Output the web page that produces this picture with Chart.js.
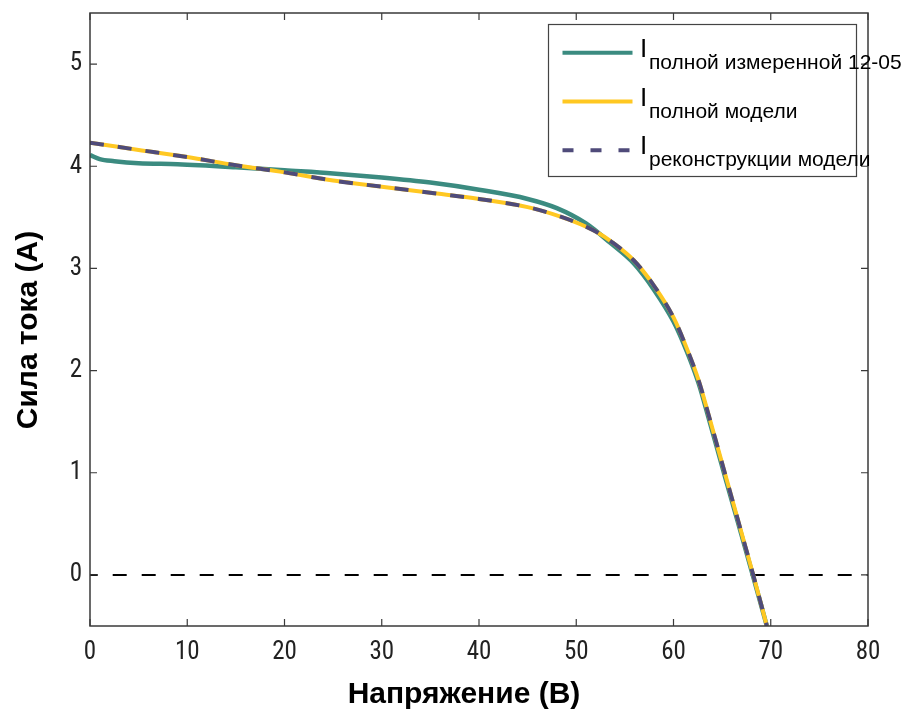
<!DOCTYPE html>
<html>
<head>
<meta charset="utf-8">
<script src="https://cdn.jsdelivr.net/npm/chart.js@4/dist/chart.umd.min.js"></script>
<style>
  html, body { margin: 0; padding: 0; background: #ffffff; }
  #wrap { width: 910px; height: 711px; position: relative; }
</style>
</head>
<body>
<div id="wrap"><canvas id="c" width="910" height="711"></canvas></div>
<script>
// ---- data ----
const xTicks = [0, 10, 20, 30, 40, 50, 60, 70, 80];
const yTicks = [0, 1, 2, 3, 4, 5];

const measuredV = [0, 1, 2.5, 5, 9, 15, 20, 25, 30, 35, 40, 45, 48, 51, 53.5, 55.9, 58, 60, 61.4, 62.6, 63.6, 65.3, 67, 68.2, 69.6];
const measuredI = [4.11, 4.07, 4.05, 4.03, 4.02, 3.99, 3.96, 3.93, 3.89, 3.84, 3.77, 3.68, 3.59, 3.44, 3.25, 3.05, 2.79, 2.48, 2.18, 1.87, 1.54, 0.96, 0.39, -0.02, -0.5];

const modelV = [0, 5, 10, 15, 20, 25, 30, 35, 40, 45, 48.3, 50.5, 52.4, 53.5, 55.9, 58, 60, 61.4, 62.6, 63.6, 65.3, 67, 68.2, 69.6];
const modelI = [4.23, 4.16, 4.09, 4.01, 3.94, 3.86, 3.80, 3.74, 3.68, 3.60, 3.51, 3.43, 3.34, 3.27, 3.08, 2.83, 2.52, 2.21, 1.90, 1.57, 0.99, 0.41, 0.0, -0.5];

const reconV = modelV;
const reconI = modelI;

const zeroV = [0, 80];
const zeroI = [0, 0];

const legendLabels = [
  { main: 'I', sub: 'полной измеренной 12-05' },
  { main: 'I', sub: 'полной модели' },
  { main: 'I', sub: 'реконструкции модели' }
];
const xTitle = 'Напряжение (В)';
const yTitle = 'Сила тока (А)';

const toPts = (xs, ys) => xs.map((x, i) => ({ x: x, y: ys[i] }));

const COL_TEAL = '#3b8b80';
const COL_YEL = '#ffc822';
const COL_NAVY = '#4f4b7a';
const TICK_FONT = '"Liberation Sans Narrow", "Roboto Condensed", "Open Sans", sans-serif';

// ---- plugins ----
const framePlugin = {
  id: 'frame',
  afterDatasetsDraw(chart) {
    const { ctx, chartArea: a, scales } = chart;
    ctx.save();
    ctx.strokeStyle = '#3a3a3a';
    ctx.lineWidth = 1.5;
    ctx.strokeRect(a.left, a.top, a.right - a.left, a.bottom - a.top);
    ctx.lineWidth = 1.2;
    const tl = 7;
    xTicks.forEach(v => {
      const px = scales.x.getPixelForValue(v);
      ctx.beginPath();
      ctx.moveTo(px, a.bottom); ctx.lineTo(px, a.bottom - tl);
      ctx.moveTo(px, a.top); ctx.lineTo(px, a.top + tl);
      ctx.stroke();
    });
    yTicks.forEach(v => {
      const py = scales.y.getPixelForValue(v);
      ctx.beginPath();
      ctx.moveTo(a.left, py); ctx.lineTo(a.left + tl, py);
      ctx.moveTo(a.right, py); ctx.lineTo(a.right - tl, py);
      ctx.stroke();
    });
    ctx.restore();
  },
  afterDraw(chart) {
    const { ctx } = chart;
    ctx.save();
    // axis titles
    ctx.fillStyle = '#000';
    ctx.font = 'bold 30px "Liberation Sans", Arial, sans-serif';
    ctx.textAlign = 'center';
    ctx.textBaseline = 'alphabetic';
    ctx.fillText(xTitle, 464, 703);
    ctx.translate(37, 330);
    ctx.rotate(-Math.PI / 2);
    ctx.fillText(yTitle, 0, 0);
    ctx.restore();

    // legend
    ctx.save();
    const bx = 548.5, by = 24.5, bw = 308, bh = 152;
    ctx.fillStyle = '#fff';
    ctx.fillRect(bx, by, bw, bh);
    ctx.strokeStyle = '#444';
    ctx.lineWidth = 1.2;
    ctx.strokeRect(bx, by, bw, bh);
    const rows = [52.7, 101.5, 150.3];
    const styles = [
      { color: COL_TEAL, dash: [] },
      { color: COL_YEL, dash: [] },
      { color: COL_NAVY, dash: [11, 17] }
    ];
    rows.forEach((ry, i) => {
      ctx.beginPath();
      ctx.strokeStyle = styles[i].color;
      ctx.lineWidth = 4;
      ctx.setLineDash(styles[i].dash);
      ctx.moveTo(562.5, ry); ctx.lineTo(632.5, ry);
      ctx.stroke();
      ctx.setLineDash([]);
      ctx.fillStyle = '#000';
      ctx.textAlign = 'left';
      ctx.textBaseline = 'alphabetic';
      ctx.font = '26px "Liberation Sans", Arial, sans-serif';
      ctx.fillText(legendLabels[i].main, 640, ry + 4);
      ctx.font = '21px "Liberation Sans", Arial, sans-serif';
      ctx.fillText(legendLabels[i].sub, 649, ry + 16);
    });
    ctx.restore();
  }
};

const ctx = document.getElementById('c').getContext('2d');
new Chart(ctx, {
  type: 'scatter',
  data: {
    datasets: [
      {
        label: 'zero',
        data: toPts(zeroV, zeroI),
        showLine: true,
        borderColor: '#000',
        borderWidth: 2,
        borderDash: [14, 15],
        borderDashOffset: 6.3,
        pointRadius: 0,
        order: 4
      },
      {
        label: legendLabels[0].sub,
        data: toPts(measuredV, measuredI),
        showLine: true,
        borderColor: COL_TEAL,
        borderWidth: 4.5,
        pointRadius: 0,
        cubicInterpolationMode: 'monotone',
        order: 3
      },
      {
        label: legendLabels[1].sub,
        data: toPts(modelV, modelI),
        showLine: true,
        borderColor: COL_YEL,
        borderWidth: 4,
        pointRadius: 0,
        cubicInterpolationMode: 'monotone',
        order: 2
      },
      {
        label: legendLabels[2].sub,
        data: toPts(reconV, reconI),
        showLine: true,
        borderColor: COL_NAVY,
        borderWidth: 4,
        borderDash: [14, 14],
        pointRadius: 0,
        cubicInterpolationMode: 'monotone',
        order: 1
      }
    ]
  },
  options: {
    responsive: false,
    animation: false,
    devicePixelRatio: 1,
    layout: { padding: { left: 0, top: 13, right: 42, bottom: 0 } },
    plugins: { legend: { display: false }, tooltip: { enabled: false }, title: { display: false } },
    scales: {
      x: {
        type: 'linear',
        min: 0, max: 80,
        afterBuildTicks: s => { s.ticks = xTicks.map(v => ({ value: v })); },
        afterFit: s => { s.height = 85; s.paddingLeft = 0; s.paddingRight = 0; },
        grid: { display: false, drawTicks: false },
        border: { display: false },
        ticks: { color: '#222', padding: 12, maxRotation: 0, autoSkip: false,
                 font: { family: TICK_FONT, size: 25 } }
      },
      y: {
        type: 'linear',
        min: -0.5, max: 5.5,
        afterBuildTicks: s => { s.ticks = yTicks.map(v => ({ value: v })); },
        afterFit: s => { s.width = 90; s.paddingTop = 0; s.paddingBottom = 0; },
        grid: { display: false, drawTicks: false },
        border: { display: false },
        ticks: { color: '#222', padding: 8, autoSkip: false,
                 font: { family: TICK_FONT, size: 25 } }
      }
    }
  },
  plugins: [framePlugin]
});
</script>
</body>
</html>
